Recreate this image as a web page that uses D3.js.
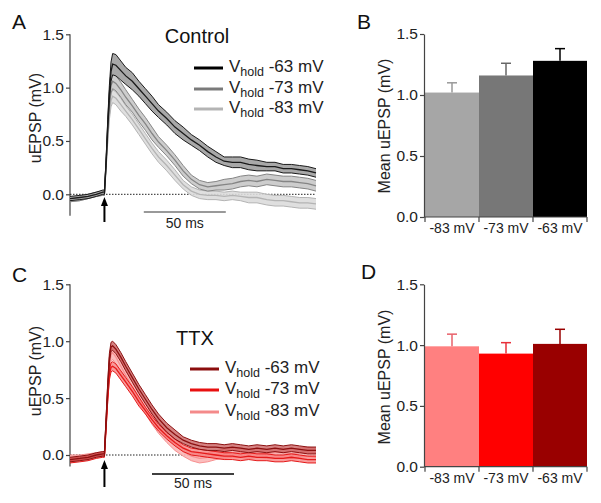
<!DOCTYPE html>
<html><head><meta charset="utf-8">
<script src="https://cdn.jsdelivr.net/npm/d3@7/dist/d3.min.js"></script>
<style>
html,body{margin:0;padding:0;background:#fff;}
svg{display:block;font-family:"Liberation Sans",Arial,sans-serif;}
</style></head>
<body>
<svg id="chart" width="601" height="503"></svg>
<script>
// ---------- data ----------
const timeMs = [-21,-15,-10,-5,-1, 0,1,2,3,4,5, 7,10,13,17, 21,25,29,33, 38,43,48,53, 58,63,68,73, 78,83,88,93, 99,104,109,114, 119,124,129];

const ctrl63Mean = [-0.04,-0.03,-0.02,0.00,0.02, 0.02,0.30,0.65,0.95,1.15,1.22, 1.21,1.16,1.11,1.06, 0.99,0.92,0.85,0.78, 0.71,0.63,0.57,0.51, 0.46,0.40,0.35,0.31, 0.30,0.30,0.28,0.27, 0.26,0.26,0.24,0.24, 0.23,0.22,0.20];
const ctrl63Sem  = [0.02,0.02,0.02,0.02,0.02, 0.02,0.03,0.05,0.07,0.09,0.10, 0.10,0.09,0.08,0.08, 0.07,0.07,0.07,0.06, 0.06,0.06,0.06,0.05, 0.05,0.05,0.05,0.04, 0.05,0.05,0.05,0.05, 0.04,0.04,0.04,0.04, 0.04,0.04,0.04];
const ctrl73Mean = [-0.05,-0.04,-0.02,0.00,0.01, 0.01,0.28,0.60,0.88,1.02,1.06, 1.04,0.98,0.91,0.83, 0.74,0.66,0.57,0.49, 0.41,0.32,0.22,0.14, 0.09,0.07,0.08,0.09, 0.10,0.12,0.13,0.12, 0.14,0.13,0.12,0.12, 0.11,0.10,0.08];
const ctrl73Sem  = [0.02,0.02,0.02,0.02,0.02, 0.02,0.03,0.05,0.06,0.07,0.07, 0.07,0.07,0.07,0.06, 0.06,0.06,0.06,0.05, 0.05,0.05,0.05,0.04, 0.04,0.04,0.04,0.05, 0.05,0.05,0.05,0.05, 0.05,0.05,0.05,0.05, 0.05,0.05,0.05];
const ctrl83Mean = [-0.05,-0.04,-0.02,0.00,0.01, 0.01,0.26,0.52,0.75,0.88,0.92, 0.90,0.84,0.78,0.70, 0.61,0.52,0.43,0.35, 0.27,0.18,0.09,0.03, 0.00,-0.01,-0.01,-0.02, -0.01,-0.02,-0.03,-0.03, -0.05,-0.06,-0.06,-0.07, -0.08,-0.08,-0.09];
const ctrl83Sem  = [0.02,0.02,0.02,0.02,0.02, 0.02,0.03,0.04,0.05,0.06,0.06, 0.06,0.06,0.05,0.05, 0.05,0.05,0.05,0.05, 0.05,0.05,0.04,0.04, 0.04,0.04,0.04,0.04, 0.04,0.04,0.05,0.05, 0.05,0.05,0.05,0.05, 0.05,0.05,0.05];

const ttx63Mean = [-0.04,-0.03,-0.02,0.00,0.01, 0.01,0.30,0.60,0.85,0.95,0.96, 0.93,0.86,0.78,0.68, 0.58,0.49,0.40,0.32, 0.24,0.18,0.13,0.10, 0.08,0.07,0.07,0.06, 0.07,0.06,0.05,0.06, 0.05,0.06,0.05,0.06, 0.05,0.04,0.04];
const ttx63Sem  = [0.02,0.02,0.02,0.02,0.02, 0.02,0.03,0.04,0.04,0.04,0.04, 0.04,0.04,0.04,0.04, 0.04,0.04,0.04,0.04, 0.04,0.04,0.03,0.03, 0.03,0.03,0.03,0.03, 0.03,0.03,0.03,0.03, 0.03,0.03,0.03,0.03, 0.03,0.03,0.03];
const ttx73Mean = [-0.05,-0.04,-0.03,-0.01,0.00, 0.00,0.25,0.50,0.70,0.77,0.78, 0.76,0.70,0.64,0.56, 0.47,0.39,0.31,0.24, 0.17,0.11,0.06,0.03, 0.02,0.01,0.00,-0.01, -0.01,-0.02,-0.01,-0.02, -0.02,-0.03,-0.03,-0.02, -0.03,-0.04,-0.04];
const ttx73Sem  = [0.02,0.02,0.02,0.02,0.02, 0.02,0.03,0.03,0.04,0.04,0.04, 0.04,0.04,0.04,0.04, 0.04,0.03,0.03,0.03, 0.03,0.03,0.03,0.03, 0.03,0.03,0.03,0.03, 0.03,0.03,0.03,0.03, 0.03,0.03,0.03,0.03, 0.03,0.03,0.03];
const ttx83Mean = [-0.02,-0.02,-0.01,0.00,0.01, 0.01,0.28,0.55,0.78,0.88,0.90, 0.86,0.78,0.70,0.60, 0.50,0.41,0.32,0.24, 0.16,0.09,0.03,-0.01, -0.03,-0.02,0.00,0.01, 0.02,0.02,0.01,0.02, 0.01,0.02,0.02,0.01, 0.02,0.03,0.02];
const ttx83Sem  = [0.02,0.02,0.02,0.02,0.02, 0.02,0.03,0.04,0.05,0.06,0.06, 0.06,0.06,0.05,0.05, 0.05,0.05,0.05,0.05, 0.05,0.05,0.04,0.04, 0.04,0.04,0.04,0.04, 0.04,0.04,0.04,0.04, 0.04,0.04,0.04,0.04, 0.04,0.04,0.04];

const barCategories = ["-83 mV","-73 mV","-63 mV"];
const ctrlBarMean = [1.02, 1.16, 1.28];
const ctrlBarErr  = [0.08, 0.10, 0.10];
const ttxBarMean  = [0.99, 0.93, 1.01];
const ttxBarErr   = [0.10, 0.09, 0.12];

const legendLabels = ["-63 mV","-73 mV","-83 mV"];
const yTicks = [0, 0.5, 1.0, 1.5];

// ---------- drawing ----------
const svg = d3.select("#chart");
const FONT_TEXT = "#222";

function tracePanel(opt){
  const g = svg.append("g");
  const x = d3.scaleLinear().domain([-21,129]).range([70,316]);
  const y = d3.scaleLinear().domain([0,1.5]).range([opt.y0, opt.y15]);
  const yAxisBottom = y(opt.ymin);

  const ax = g.append("g").attr("transform","translate(70,0)")
    .call(d3.axisLeft(y).tickValues(yTicks).tickFormat(d3.format(".1f")).tickSize(4).tickSizeOuter(0));
  ax.select(".domain").remove();
  ax.selectAll(".tick line").attr("stroke","#444").attr("stroke-width",1.2);
  ax.selectAll(".tick text").attr("font-size",15.5).attr("fill",FONT_TEXT).attr("x",-6).attr("font-family","Liberation Sans, Arial, sans-serif");
  g.append("line").attr("x1",70).attr("x2",70).attr("y1",y(1.5)).attr("y2",yAxisBottom).attr("stroke","#444").attr("stroke-width",1.2);

  g.append("text").attr("transform",`translate(35,${opt.labelY}) rotate(-90)`)
    .attr("text-anchor","middle").attr("dy","0.35em").attr("font-size",16).attr("fill",FONT_TEXT).text("uEPSP (mV)");

  g.append("line").attr("x1",x(-21)).attr("x2",x(129)).attr("y1",y(0)).attr("y2",y(0))
    .attr("stroke","#222").attr("stroke-width",1).attr("stroke-dasharray","1.5,1.5");

  opt.series.forEach(s=>{
    const pts = timeMs.map((t,i)=>({t, m:s.mean[i], e:s.sem[i]}));
    const area = d3.area().x(d=>x(d.t)).y0(d=>y(d.m-d.e)).y1(d=>y(d.m+d.e)).curve(d3.curveLinear);
    g.append("path").attr("d",area(pts)).attr("fill",s.fill).attr("fill-opacity",s.fillOpacity);
    const lo = d3.line().x(d=>x(d.t)).y(d=>y(d.m-d.e));
    const hi = d3.line().x(d=>x(d.t)).y(d=>y(d.m+d.e));
    const mid = d3.line().x(d=>x(d.t)).y(d=>y(d.m));
    [lo,hi].forEach(l=>g.append("path").attr("d",l(pts)).attr("fill","none").attr("stroke",s.color).attr("stroke-width",1));
    g.append("path").attr("d",mid(pts)).attr("fill","none").attr("stroke",s.color).attr("stroke-width",1.3);
  });

  const ax0 = x(0);
  g.append("line").attr("x1",ax0).attr("x2",ax0).attr("y1",opt.arrowTop+6).attr("y2",opt.arrowBottom).attr("stroke","#000").attr("stroke-width",2);
  g.append("path").attr("d",`M${ax0},${opt.arrowTop} L${ax0-3.5},${opt.arrowTop+9} L${ax0+3.5},${opt.arrowTop+9} Z`).attr("fill","#000");

  g.append("line").attr("x1",x(opt.barT0)).attr("x2",x(opt.barT0+50)).attr("y1",opt.barY).attr("y2",opt.barY)
    .attr("stroke",opt.barColor).attr("stroke-width",1.5);
  g.append("text").attr("x",(x(opt.barT0)+x(opt.barT0+50))/2).attr("y",opt.barTextY).attr("text-anchor","middle")
    .attr("font-size",14).attr("fill",FONT_TEXT).text("50 ms");

  g.append("text").attr("x",opt.titleX).attr("y",opt.titleY).attr("text-anchor","middle").attr("font-size",20).attr("fill","#111").text(opt.title);
  g.append("text").attr("x",12).attr("y",opt.letterY).attr("font-size",21).attr("fill","#111").text(opt.letter);

  opt.series.slice().reverse().forEach((s,i)=>{
    const ly = opt.legendY[i];
    g.append("line").attr("x1",opt.legX).attr("x2",opt.legX+29).attr("y1",ly).attr("y2",ly).attr("stroke",s.legendColor).attr("stroke-width",3);
    const t = g.append("text").attr("x",opt.legX+35).attr("y",ly+4).attr("font-size",17).attr("fill",FONT_TEXT);
    t.append("tspan").text("V");
    t.append("tspan").attr("font-size",12.5).attr("dy",4).text("hold");
    t.append("tspan").attr("dy",-4).text(" " + legendLabels[i]);
  });
}

function barPanel(opt){
  const g = svg.append("g");
  const y = d3.scaleLinear().domain([0,1.5]).range([opt.y0, opt.y15]);
  const x = d3.scaleBand().domain(barCategories).range([425,587]).padding(0);

  barCategories.forEach((c,i)=>{
    g.append("rect").attr("x",x(c)).attr("width",x.bandwidth()).attr("y",y(opt.mean[i])).attr("height",y(0)-y(opt.mean[i]))
      .attr("fill",opt.colors[i]);
    const cx = x(c)+x.bandwidth()/2;
    g.append("line").attr("x1",cx).attr("x2",cx).attr("y1",y(opt.mean[i])).attr("y2",y(opt.mean[i]+opt.err[i]))
      .attr("stroke",opt.errColors[i]).attr("stroke-width",1.5);
    g.append("line").attr("x1",cx-5).attr("x2",cx+5).attr("y1",y(opt.mean[i]+opt.err[i])).attr("y2",y(opt.mean[i]+opt.err[i]))
      .attr("stroke",opt.errColors[i]).attr("stroke-width",1.5);
  });

  const ax = g.append("g").attr("transform","translate(424,0)")
    .call(d3.axisLeft(y).tickValues(yTicks).tickFormat(d3.format(".1f")).tickSize(4).tickSizeOuter(0));
  ax.select(".domain").attr("stroke","#444").attr("stroke-width",1.2);
  ax.selectAll(".tick line").attr("stroke","#444").attr("stroke-width",1.2);
  ax.selectAll(".tick text").attr("font-size",15.5).attr("fill",FONT_TEXT).attr("x",-6).attr("font-family","Liberation Sans, Arial, sans-serif");

  g.append("line").attr("x1",424).attr("x2",587).attr("y1",y(0)).attr("y2",y(0)).attr("stroke","#444").attr("stroke-width",1.2);
  const bounds = barCategories.map(c=>x(c)).concat([x(barCategories[2])+x.bandwidth()]);
  bounds.forEach(b=>g.append("line").attr("x1",b).attr("x2",b).attr("y1",y(0)).attr("y2",y(0)+5).attr("stroke","#444").attr("stroke-width",1.2));
  barCategories.forEach(c=>g.append("text").attr("x",x(c)+x.bandwidth()/2).attr("y",y(0)+16).attr("text-anchor","middle")
    .attr("font-size",14).attr("fill",FONT_TEXT).text(c));

  g.append("text").attr("transform",`translate(384,${opt.labelY}) rotate(-90)`)
    .attr("text-anchor","middle").attr("dy","0.35em").attr("font-size",16).attr("fill",FONT_TEXT).text("Mean uEPSP (mV)");
  g.append("text").attr("x",opt.letterX).attr("y",opt.letterY).attr("font-size",21).attr("fill","#111").text(opt.letter);
}

tracePanel({
  y0:194.3, y15:34.3, ymin:-0.2, labelY:118,
  series:[
    {mean:ctrl83Mean, sem:ctrl83Sem, color:"#b4b4b4", fill:"#dcdcdc", fillOpacity:0.9, legendColor:"#b4b4b4"},
    {mean:ctrl73Mean, sem:ctrl73Sem, color:"#858585", fill:"#c8c8c8", fillOpacity:0.9, legendColor:"#7a7a7a"},
    {mean:ctrl63Mean, sem:ctrl63Sem, color:"#1a1a1a", fill:"#a8a8a8", fillOpacity:1, legendColor:"#000"}
  ],
  arrowTop:197, arrowBottom:222, barT0:24, barY:212, barColor:"#777", barTextY:228,
  title:"Control", titleX:197, titleY:43, letter:"A", letterY:29,
  legX:194, legendY:[68,89,109]
});

tracePanel({
  y0:455, y15:284.3, ymin:-0.1, labelY:371,
  series:[
    {mean:ttx83Mean, sem:ttx83Sem, color:"#f79090", fill:"#fbb6b6", fillOpacity:0.9, legendColor:"#f48a8a"},
    {mean:ttx73Mean, sem:ttx73Sem, color:"#e51a1a", fill:"#f77a7a", fillOpacity:0.75, legendColor:"#e81010"},
    {mean:ttx63Mean, sem:ttx63Sem, color:"#8c1010", fill:"#c85a5a", fillOpacity:0.75, legendColor:"#8b0d0d"}
  ],
  arrowTop:460, arrowBottom:487, barT0:29, barY:474, barColor:"#000", barTextY:488,
  title:"TTX", titleX:195, titleY:345, letter:"C", letterY:282,
  legX:190, legendY:[369,390,412]
});

barPanel({
  y0:217, y15:34, labelY:126, mean:ctrlBarMean, err:ctrlBarErr,
  colors:["#a6a6a6","#777777","#000000"], errColors:["#999","#666","#000"],
  letter:"B", letterX:357, letterY:29
});

barPanel({
  y0:466.7, y15:284.3, labelY:377, mean:ttxBarMean, err:ttxBarErr,
  colors:["#ff8080","#ff0000","#990000"], errColors:["#e8606a","#e8303a","#990000"],
  letter:"D", letterX:361, letterY:279
});
</script>
</body></html>
